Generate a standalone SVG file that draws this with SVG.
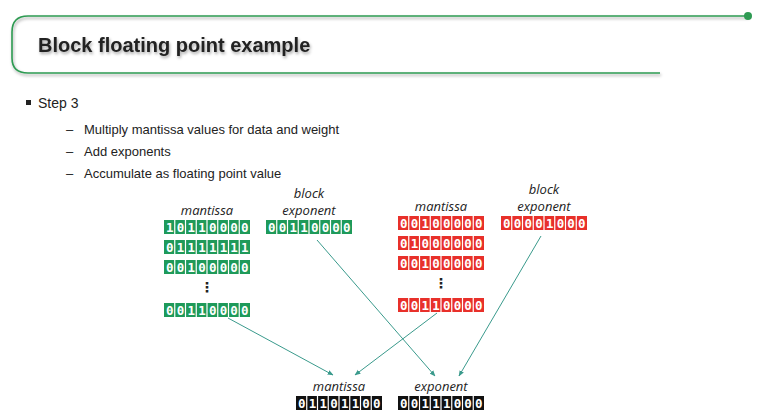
<svg xmlns="http://www.w3.org/2000/svg" xmlns:xlink="http://www.w3.org/1999/xlink" width="768" height="414" viewBox="0 0 768 414">
<style>
.t{font-family:"Liberation Sans","DejaVu Sans",sans-serif;fill:#222}
.lab{font-family:"Open Sans","DejaVu Sans",sans-serif;font-style:italic;font-size:13px;fill:#222;text-anchor:middle}
.bits{font-family:"DejaVu Sans Mono","Liberation Mono",monospace;font-weight:bold;font-size:12.5px;fill:#fff;letter-spacing:3.2px}
.g{fill:#1e9a5a}.r{fill:#e8302a}.k{fill:#111}
.c{stroke:#3a9a8c;stroke-width:1;fill:none;marker-end:url(#ah)}
</style>
<defs>
<g id="sep" stroke="#fff" stroke-width="1.2">
<line x1="10.75" y1="0" x2="10.75" y2="14"/><line x1="21.5" y1="0" x2="21.5" y2="14"/><line x1="32.25" y1="0" x2="32.25" y2="14"/><line x1="43" y1="0" x2="43" y2="14"/><line x1="53.75" y1="0" x2="53.75" y2="14"/><line x1="64.5" y1="0" x2="64.5" y2="14"/><line x1="75.25" y1="0" x2="75.25" y2="14"/>
</g>
<marker id="ah" viewBox="0 0 10 10" refX="9" refY="5" markerWidth="6" markerHeight="6" orient="auto"><path d="M0,1 L10,5 L0,9 z" fill="#3a9a8c"/></marker>
<filter id="sh" x="-5%" y="-20%" width="110%" height="150%"><feDropShadow dx="1" dy="2" stdDeviation="1.5" flood-color="#000" flood-opacity="0.35"/></filter>
</defs>
<rect width="768" height="414" fill="#fff"/>
<g id="header">
<path d="M748,16 H28 Q12,16 12,32 V58 Q12,73 28,73 H660" fill="none" stroke="#2e9a52" stroke-width="1.6" filter="url(#sh)"/>
<circle cx="748" cy="16" r="4" fill="#2e9a52"/>
<text x="38" y="52" class="t" font-weight="bold" font-size="20" fill="#111" filter="url(#sh)">Block floating point example</text>
</g>
<g id="bullets">
<rect x="26" y="100" width="5" height="5" fill="#222"/>
<text x="38" y="108" class="t" font-size="14">Step 3</text>
<text x="66" y="134" class="t" font-size="13">–</text><text x="84" y="134" class="t" font-size="13">Multiply mantissa values for data and weight</text>
<text x="66" y="156" class="t" font-size="13">–</text><text x="84" y="156" class="t" font-size="13">Add exponents</text>
<text x="66" y="178" class="t" font-size="13">–</text><text x="84" y="178" class="t" font-size="13">Accumulate as floating point value</text>
</g>
<g id="data-mantissa">
<text x="207" y="215" class="lab">mantissa</text>
<rect x="164" y="220" width="86" height="14" class="g"/><use xlink:href="#sep" x="164" y="220"/><text x="166" y="231.5" class="bits">10110000</text>
<rect x="164" y="240" width="86" height="14" class="g"/><use xlink:href="#sep" x="164" y="240"/><text x="166" y="251.5" class="bits">01111111</text>
<rect x="164" y="260" width="86" height="14" class="g"/><use xlink:href="#sep" x="164" y="260"/><text x="166" y="271.5" class="bits">00100000</text>
<text x="207" y="292" class="t" font-size="14" font-weight="bold" text-anchor="middle">⋮</text>
<rect x="164" y="303" width="86" height="14" class="g"/><use xlink:href="#sep" x="164" y="303"/><text x="166" y="314.5" class="bits">00110000</text>
</g>
<g id="data-exponent">
<text x="309" y="198" class="lab">block</text>
<text x="309" y="215" class="lab">exponent</text>
<rect x="266" y="220" width="86" height="14" class="g"/><use xlink:href="#sep" x="266" y="220"/><text x="268" y="231.5" class="bits">00110000</text>
</g>
<g id="weight-mantissa">
<text x="441" y="211" class="lab">mantissa</text>
<rect x="398" y="216" width="86" height="14" class="r"/><use xlink:href="#sep" x="398" y="216"/><text x="400" y="227.5" class="bits">00100000</text>
<rect x="398" y="236" width="86" height="14" class="r"/><use xlink:href="#sep" x="398" y="236"/><text x="400" y="247.5" class="bits">01000000</text>
<rect x="398" y="256" width="86" height="14" class="r"/><use xlink:href="#sep" x="398" y="256"/><text x="400" y="267.5" class="bits">00100000</text>
<text x="441" y="288" class="t" font-size="14" font-weight="bold" text-anchor="middle">⋮</text>
<rect x="398" y="298" width="86" height="14" class="r"/><use xlink:href="#sep" x="398" y="298"/><text x="400" y="309.5" class="bits">00110000</text>
</g>
<g id="weight-exponent">
<text x="544" y="194" class="lab">block</text>
<text x="544" y="211" class="lab">exponent</text>
<rect x="501" y="216" width="86" height="14" class="r"/><use xlink:href="#sep" x="501" y="216"/><text x="503" y="227.5" class="bits">00001000</text>
</g>
<g id="result-mantissa">
<text x="339" y="391" class="lab">mantissa</text>
<rect x="296" y="396" width="86" height="14" class="k"/><use xlink:href="#sep" x="296" y="396"/><text x="298" y="407.5" class="bits">01101100</text>
</g>
<g id="result-exponent">
<text x="441" y="391" class="lab">exponent</text>
<rect x="398" y="396" width="86" height="14" class="k"/><use xlink:href="#sep" x="398" y="396"/><text x="400" y="407.5" class="bits">00111000</text>
</g>
<g id="connectors">
<path class="c" d="M228,318 L333,375"/>
<path class="c" d="M437,313 L355,375"/>
<path class="c" d="M317,240 L435,376"/>
<path class="c" d="M541,236 L459,376"/>
</g>
</svg>
